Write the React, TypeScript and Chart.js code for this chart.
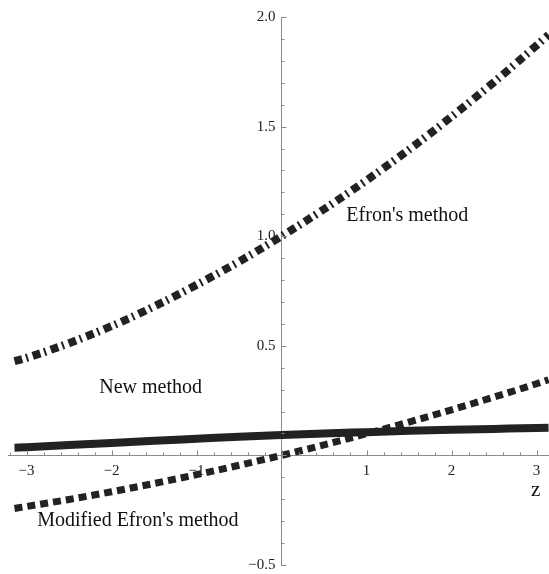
import React, { useEffect, useRef } from "react";
import { Chart, registerables } from "chart.js";

Chart.register(...registerables);

const zValues = [-3.1416, -3, -2.5, -2, -1.5, -1, -0.5, 0, 0.5, 1, 1.5, 2, 2.5, 3, 3.1416];
const efronMethod = [0.43, 0.445, 0.512, 0.59, 0.679, 0.778, 0.884, 1.0, 1.123, 1.255, 1.395, 1.545, 1.703, 1.87, 1.919];
const modifiedEfronMethod = [-0.242, -0.233, -0.201, -0.166, -0.128, -0.088, -0.045, 0, 0.048, 0.099, 0.152, 0.208, 0.266, 0.327, 0.345];
const newMethod = [0.035, 0.037, 0.047, 0.057, 0.067, 0.076, 0.085, 0.093, 0.1, 0.106, 0.112, 0.117, 0.121, 0.125, 0.126];

const xTickValues = [-3, -2, -1, 1, 2, 3];
const xTickLabels = ["\u22123", "\u22122", "\u22121", "1", "2", "3"];
const yTickValues = [-0.5, 0.5, 1.0, 1.5, 2.0];
const yTickLabels = ["\u22120.5", "0.5", "1.0", "1.5", "2.0"];

const seriesNames = ["Modified Efron's method", "New method", "Efron's method"];

const SERIF = "'Liberation Serif', 'DejaVu Serif', serif";
const INK = "#222";
const AXIS = "#8a8a8a";

const decorPlugin = {
  id: "decor",
  afterDraw(chart: any) {
    const ctx = chart.ctx;
    const xs = chart.scales.x;
    const ys = chart.scales.y;
    const x0 = xs.getPixelForValue(0);
    const y0 = ys.getPixelForValue(0);
    ctx.save();
    ctx.strokeStyle = AXIS;
    ctx.lineWidth = 1;
    // x ticks (inside, upward)
    for (let i = -16; i <= 15; i++) {
      const v = i * 0.2;
      const px = Math.round(xs.getPixelForValue(v)) + 0.5;
      if (px < chart.chartArea.left || px > chart.chartArea.right) continue;
      const major = i % 5 === 0;
      ctx.beginPath();
      ctx.moveTo(px, y0);
      ctx.lineTo(px, y0 - (major ? 5 : 3));
      ctx.stroke();
    }
    // y ticks (inside, rightward)
    for (let i = -5; i <= 20; i++) {
      const v = i * 0.1;
      const py = Math.round(ys.getPixelForValue(v)) + 0.5;
      const major = i % 5 === 0;
      ctx.beginPath();
      ctx.moveTo(x0, py);
      ctx.lineTo(x0 + (major ? 5 : 3), py);
      ctx.stroke();
    }
    // tick labels
    ctx.fillStyle = "#222";
    ctx.font = `15px ${SERIF}`;
    ctx.textAlign = "center";
    ctx.textBaseline = "top";
    xTickValues.forEach((v, i) => {
      ctx.fillText(xTickLabels[i], xs.getPixelForValue(v), y0 + 8);
    });
    ctx.textAlign = "right";
    ctx.textBaseline = "middle";
    yTickValues.forEach((v, i) => {
      ctx.fillText(yTickLabels[i], x0 - 6, ys.getPixelForValue(v));
    });
    // curve labels
    ctx.fillStyle = "#111";
    ctx.textAlign = "center";
    ctx.textBaseline = "middle";
    ctx.font = `20px ${SERIF}`;
    ctx.fillText(seriesNames[2], xs.getPixelForValue(1.48), ys.getPixelForValue(1.095));
    ctx.fillText(seriesNames[1], xs.getPixelForValue(-1.54), ys.getPixelForValue(0.31));
    ctx.fillText(seriesNames[0], xs.getPixelForValue(-1.69), ys.getPixelForValue(-0.297));
    ctx.font = `21px ${SERIF}`;
    ctx.fillText("z", xs.getPixelForValue(2.99), ys.getPixelForValue(-0.16));
    ctx.restore();
  },
};

export default function App() {
  const ref = useRef<HTMLCanvasElement>(null);
  useEffect(() => {
    document.body.style.margin = "0";
    const pts = (ys: number[]) => zValues.map((z, i) => ({ x: z, y: ys[i] }));
    const chart = new Chart(ref.current!, {
      type: "line",
      data: {
        datasets: [
          {
            label: seriesNames[0],
            data: pts(modifiedEfronMethod),
            borderColor: INK,
            borderWidth: 7,
            borderDash: [8, 5],
            borderCapStyle: "butt",
            pointRadius: 0,
            cubicInterpolationMode: "monotone",
          },
          {
            label: seriesNames[1],
            data: pts(newMethod),
            borderColor: INK,
            borderWidth: 8,
            borderCapStyle: "butt",
            pointRadius: 0,
            cubicInterpolationMode: "monotone",
          },
          {
            label: seriesNames[2],
            data: pts(efronMethod),
            borderColor: INK,
            borderWidth: 8,
            borderDash: [8, 4, 2, 5],
            borderCapStyle: "butt",
            pointRadius: 0,
            cubicInterpolationMode: "monotone",
          },
        ],
      },
      options: {
        animation: false,
        responsive: false,
        devicePixelRatio: 1,
        layout: { padding: { left: 8, right: 0, top: 17, bottom: 9 } },
        plugins: { legend: { display: false }, tooltip: { enabled: false } },
        scales: {
          x: {
            type: "linear",
            min: -3.218,
            max: 3.147,
            position: { y: 0 },
            grid: { display: false, drawTicks: false, tickLength: 0 },
            border: { display: true, color: AXIS, width: 1 },
            ticks: { display: false },
          },
          y: {
            type: "linear",
            min: -0.5,
            max: 2.0,
            position: { x: 0 },
            grid: { display: false, drawTicks: false, tickLength: 0 },
            border: { display: true, color: AXIS, width: 1 },
            ticks: { display: false },
          },
        },
      },
      plugins: [decorPlugin],
    } as any);
    return () => chart.destroy();
  }, []);
  return (
    <div style={{ width: 549, height: 574, background: "#fff" }}>
      <canvas ref={ref} width={549} height={574} />
    </div>
  );
}
